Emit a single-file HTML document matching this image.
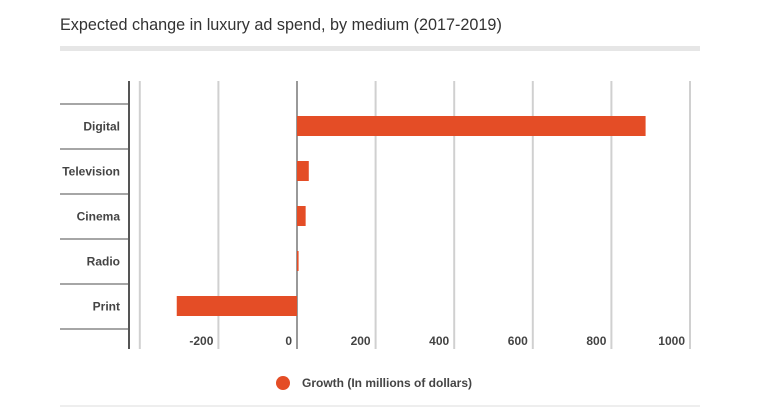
<!DOCTYPE html>
<html><head><meta charset="utf-8"><style>
body{margin:0;background:#fff;width:759px;height:412px;overflow:hidden;font-family:"Liberation Sans",Arial,sans-serif}
</style></head><body>
<svg width="759" height="412" xmlns="http://www.w3.org/2000/svg">
<text x="60" y="30" font-size="16.2" fill="#333">Expected change in luxury ad spend, by medium (2017-2019)</text>
<rect x="60" y="46" width="640" height="5" fill="#e6e6e6"/>
<g id="grid"></g><g id="rows"></g><g id="bars"></g><g id="ticks"></g>
<line x1="129" y1="81" x2="129" y2="349" stroke="#555" stroke-width="2"/>
<circle cx="283" cy="383" r="7" fill="#e44d26"/>
<text x="302" y="387" font-size="12" font-weight="bold" fill="#444">Growth (In millions of dollars)</text>
<line x1="60" y1="406" x2="700" y2="406" stroke="#ddd" stroke-width="1"/>
</svg>
<script>
const categories=["Digital","Television","Cinema","Radio","Print"];
const values=[887,30,22,4,-306];
const ticks=[-400,-200,0,200,400,600,800,1000];
const tickLabels=["","-200","0","200","400","600","800","1000"];
const NS="http://www.w3.org/2000/svg";
const x=v=>297+v*0.393;
const rowTop=i=>104+i*45;
function mk(tag,attrs,parent,txt){const e=document.createElementNS(NS,tag);for(const k in attrs)e.setAttribute(k,attrs[k]);if(txt!==undefined)e.textContent=txt;document.getElementById(parent).appendChild(e);return e;}
ticks.forEach((t,i)=>{
  const g=mk('line',{x1:x(t),x2:x(t),y1:81,y2:349,stroke:t===0?'#999':'#d0d0d0','stroke-width':2},'grid');
  
  
  if(tickLabels[i]){
    const l=mk('text',{x:x(t)-5,y:345,'font-size':12,'font-weight':'bold',fill:'#444','text-anchor':'end'},'ticks',tickLabels[i]);
    
    
  }
});
for(let i=0;i<=categories.length;i++){
  const s=mk('line',{x1:60,x2:129,y1:rowTop(i),y2:rowTop(i),stroke:'#888','stroke-width':1.5},'rows');
  
  
}
categories.forEach((c,i)=>{
  const l=mk('text',{x:120,y:rowTop(i)+26.5,'font-size':12,'font-weight':'bold',fill:'#444','text-anchor':'end'},'rows',c);
  
  
  const v=values[i];
  const b=mk('rect',{x:Math.min(x(0),x(v)),y:rowTop(i)+12,width:Math.max(1.5,Math.abs(x(v)-x(0))),height:20,fill:'#e44d26'},'bars');
  
  
});
</script>
</body></html>
